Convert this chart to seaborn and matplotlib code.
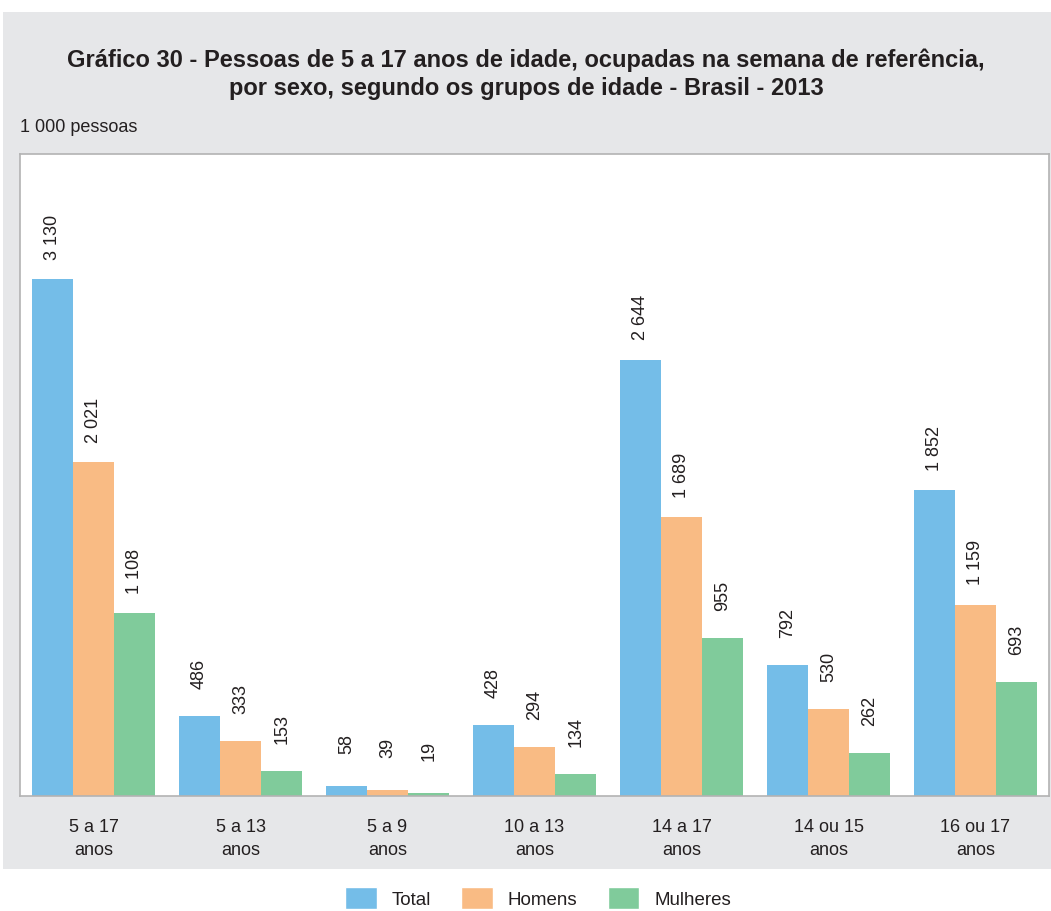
import pandas as pd
import matplotlib.pyplot as plt
import seaborn as sns
from matplotlib.patches import Rectangle

grupos = ['5 a 17\nanos', '5 a 13\nanos', '5 a 9\nanos', '10 a 13\nanos',
          '14 a 17\nanos', '14 ou 15\nanos', '16 ou 17\nanos']
total = [3130, 486, 58, 428, 2644, 792, 1852]
homens = [2021, 333, 39, 294, 1689, 530, 1159]
mulheres = [1108, 153, 19, 134, 955, 262, 693]
series = ['Total', 'Homens', 'Mulheres']
cores = ['#74bde8', '#f9bb84', '#80cb9b']

df = pd.DataFrame({'grupo': grupos * 3,
                   'valor': total + homens + mulheres,
                   'serie': [s for s in series for _ in grupos]})

sns.set_style('white')
plt.rcParams['font.family'] = ['Liberation Sans', 'DejaVu Sans']

W, H = 1051, 912
fig = plt.figure(figsize=(W / 100, H / 100), dpi=100)
fig.patch.set_facecolor('white')
# gray panel behind everything
fig.patches.append(Rectangle((3 / W, (H - 870) / H), 1 - 3 / W, (870 - 13) / H,
                             transform=fig.transFigure, facecolor='#e6e7e9',
                             edgecolor='none', zorder=-10))

ax = fig.add_axes([20 / W, (H - 797) / H, (1049 - 20) / W, (797 - 155) / H])
sns.barplot(data=df, x='grupo', y='valor', hue='serie', palette=cores,
            width=0.84, gap=0, saturation=1, linewidth=0, ax=ax, legend=False)
ax.set_facecolor('white')
ax.set_ylim(0, 3890)
ax.set_xlim(-0.5, 6.5)
ax.set_yticks([])
ax.set_xlabel('')
ax.set_ylabel('')
ax.tick_params(axis='x', length=0, pad=16, labelsize=13, colors='#231f20')
for t in ax.get_xticklabels():
    t.set_linespacing(1.45)
for s in ax.spines.values():
    s.set_color('#b3b3b3')
    s.set_linewidth(1.2)

for cont in ax.containers:
    for bar in cont:
        v = bar.get_height()
        txt = f'{int(round(v)):,}'.replace(',', ' ')
        ax.annotate(txt, (bar.get_x() + bar.get_width() / 2, v),
                    xytext=(0, 31), textcoords='offset points',
                    rotation=90, ha='center', va='center',
                    fontsize=13, color='#231f20')

fig.text(526 / W, 1 - 60 / H,
         'Gráfico 30 - Pessoas de 5 a 17 anos de idade, ocupadas na semana de referência,',
         ha='center', va='center', fontsize=17, fontweight='bold', color='#231f20')
fig.text(526 / W, 1 - 88 / H,
         'por sexo, segundo os grupos de idade - Brasil - 2013',
         ha='center', va='center', fontsize=17, fontweight='bold', color='#231f20')
fig.text(20 / W, 1 - 128 / H, '1 000 pessoas', ha='left', va='center',
         fontsize=13, color='#231f20')

handles = [Rectangle((0, 0), 1, 1, facecolor=c) for c in cores]
fig.legend(handles, series, loc='center', bbox_to_anchor=(538 / W, 1 - 899 / H),
           ncol=3, frameon=False, fontsize=13.5, handlelength=1.7,
           handleheight=1.45, columnspacing=1.6, handletextpad=0.8,
           labelcolor='#231f20')

plt.savefig('out.png', dpi=100, facecolor='white')
